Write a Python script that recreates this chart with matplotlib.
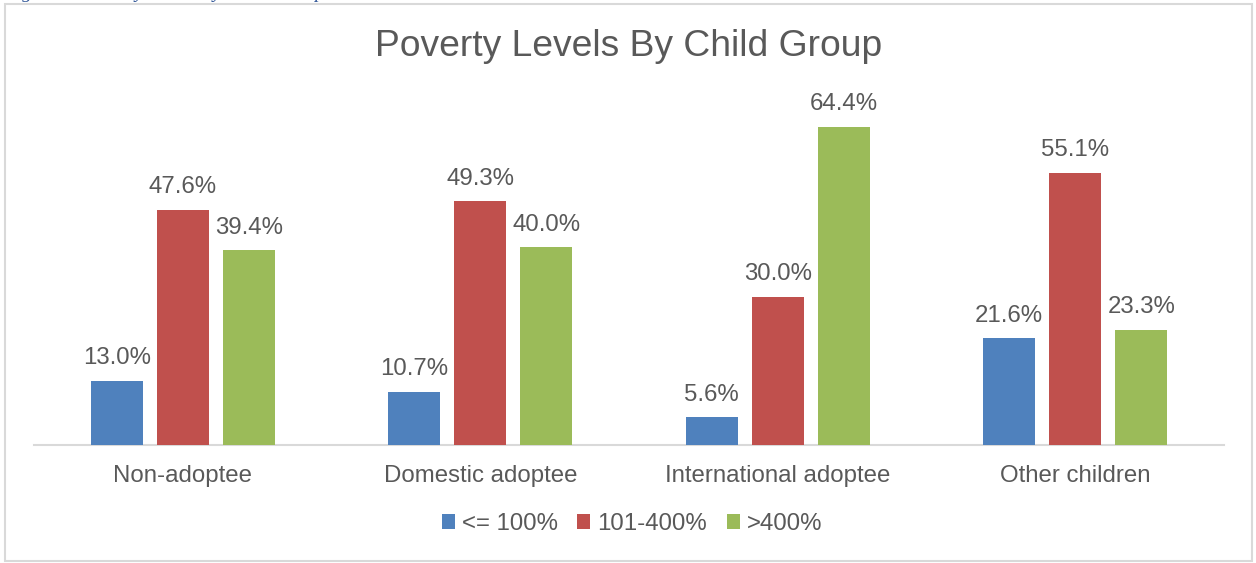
import matplotlib
matplotlib.use("Agg")
import matplotlib.pyplot as plt
from matplotlib.patches import Rectangle
import numpy as np

categories = ["Non-adoptee", "Domestic adoptee", "International adoptee", "Other children"]
series_names = ["<= 100%", "101-400%", ">400%"]
low = [13.0, 10.7, 5.6, 21.6]
mid = [47.6, 49.3, 30.0, 55.1]
high = [39.4, 40.0, 64.4, 23.3]
colors = ["#4F81BD", "#C0504D", "#9BBB59"]
title = "Poverty Levels By Child Group"
caption = "Figure 4: Poverty Levels by Child Group"

plt.rcParams['font.family'] = ['Liberation Sans', 'DejaVu Sans']
TXT = "#595959"

fig = plt.figure(figsize=(12.56, 5.63), dpi=100)
W, H = 1256, 563
ax = fig.add_axes([34 / W, 1 - 445 / H, (1224 - 34) / W, (445 - 99) / H])

x = np.arange(len(categories))
bw = 0.175
step = 0.222
for i, (vals, c, name) in enumerate(zip([low, mid, high], colors, series_names)):
    pos = x + (i - 1) * step
    ax.bar(pos, vals, width=bw, color=c, label=name, zorder=3)
    for p, v in zip(pos, vals):
        ax.annotate(f"{v:.1f}%", (p, v), xytext=(0, 12.0), textcoords="offset points",
                    ha="center", va="baseline", fontsize=17.3, color=TXT)

ax.set_xlim(-0.5, len(categories) - 0.5)
ax.set_ylim(0, 70)
ax.set_yticks([])
ax.set_xticks(x)
ax.set_xticklabels(categories, fontsize=17.3, color=TXT)
ax.tick_params(axis='x', length=0, pad=14.5)
for s in ["top", "right", "left"]:
    ax.spines[s].set_visible(False)
ax.spines["bottom"].set_color("#D9D9D9")
ax.spines["bottom"].set_linewidth(1.5)

fig.text(629 / W, 1 - 47 / H, title, ha="center", va="center", fontsize=26.8, color=TXT)

fig.legend(loc="center", bbox_to_anchor=(632 / W, 1 - 524 / H), ncol=3, frameon=False,
           fontsize=17.3, handlelength=0.55, handleheight=0.55, handletextpad=0.3,
           columnspacing=0.8, labelcolor=TXT)

# outer border
fig.patches.append(Rectangle((5 / W, 1 - 561 / H), (1252 - 5) / W, (561 - 4) / H,
                             transform=fig.transFigure, fill=False, edgecolor="#D9D9D9", linewidth=1.5))

# caption cut off at top (only descenders visible, as in the reference)
fig.text(5 / W, 1 + 2.5 / H, caption, ha="left", va="baseline", fontsize=14,
         family="Liberation Serif", style="italic", color="#2F5597")

fig.savefig("out.png", dpi=100, facecolor="white")
